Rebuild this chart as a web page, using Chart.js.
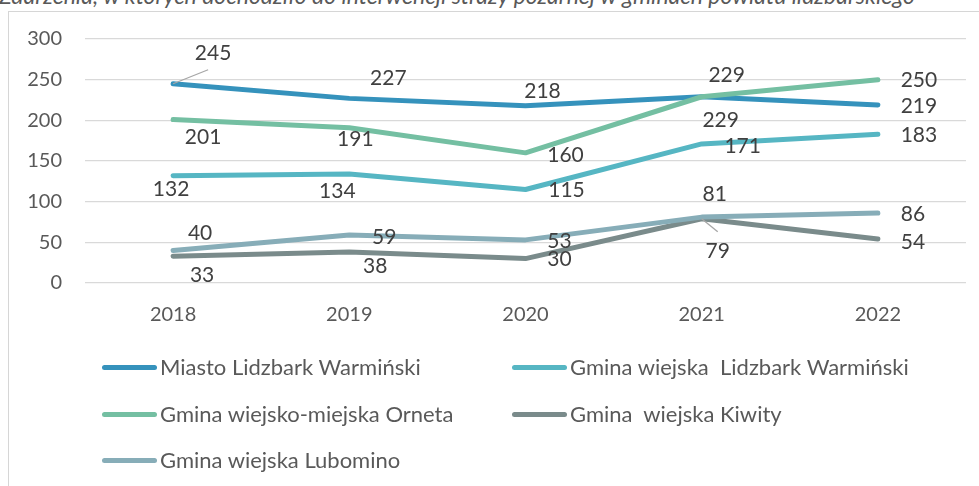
<!DOCTYPE html>
<html lang="pl">
<head>
<meta charset="utf-8">
<script src="https://cdn.jsdelivr.net/npm/chart.js@4/dist/chart.umd.min.js"></script>
<style>
  html, body { margin: 0; padding: 0; background: #fff; }
  body { width: 979px; height: 486px; position: relative; overflow: hidden; font-family: Lato, "Open Sans", sans-serif; }
  #frame { position: absolute; left: 8px; top: 11px; width: 1000px; height: 500px;
           border-left: 1px solid #d6d6d6; border-top: 1px solid #d6d6d6; }
  #title { position: absolute; left: -1px; top: -16px; white-space: nowrap; font-style: italic;
           font-size: 23px; line-height: 23px; color: #595959; background: #fff; }
  #wrap { position: absolute; left: 0; top: 0; width: 979px; height: 486px; }
  #legend { position: absolute; left: 0; top: 0; width: 979px; height: 486px; pointer-events: none; }
  .item { position: absolute; display: flex; align-items: center; height: 26px; white-space: pre; }
  .swatch { width: 55px; height: 5px; border-radius: 3px; margin-right: 3px; }
  .item span { font-size: 22px; color: #595959; line-height: 26px; }
</style>
</head>
<body>
<div id="frame"></div>
<div id="title">Zdarzenia, w których dochodziło do interwencji straży pożarnej w gminach powiatu lidzbarskiego</div>
<div id="wrap"><canvas id="c" width="979" height="486"></canvas></div>
<div id="legend"></div>
<script>
// Years on the category axis
const years = ['2018', '2019', '2020', '2021', '2022'];

// Series names (as shown in the legend)
const seriesNames = [
  'Miasto Lidzbark Warmiński',
  'Gmina wiejska  Lidzbark Warmiński',
  'Gmina wiejsko-miejska Orneta',
  'Gmina  wiejska Kiwity',
  'Gmina wiejska Lubomino'
];

// Number of fire brigade interventions per year
const miastoLidzbark = [245, 227, 218, 229, 219];
const gminaLidzbark  = [132, 134, 115, 171, 183];
const orneta         = [201, 191, 160, 229, 250];
const kiwity         = [33, 38, 30, 79, 54];
const lubomino       = [40, 59, 53, 81, 86];

// Value axis ticks
const yTicks = [0, 50, 100, 150, 200, 250, 300];

const seriesValues = [miastoLidzbark, gminaLidzbark, orneta, kiwity, lubomino];
const seriesColors = ['#3592BC', '#56B6C3', '#74BFA2', '#7A8B8B', '#87ADB8'];

// Value-label placement relative to each point (pixel offsets of the label centre)
const labelOffsets = [
  [[40, -30], [39, -20], [17, -14], [25, -22], [41, 1]],
  [[-2, 14], [-12, 17], [41, 1], [41, 2], [41, 1]],
  [[30, 18], [6, 12], [40, 2], [19, 23], [41, 1]],
  [[29, 19], [26, 14], [34, 1], [16, 32], [35, 3]],
  [[27, -17], [35, 2], [34, 1], [13, -23], [35, 1]]
];
// Leader lines for moved labels: [series, point, dx, dy]
const leaders = [[0, 0, 35, -14], [3, 3, 16, 13]];

const datasets = seriesNames.map((name, i) => ({
  label: name,
  data: seriesValues[i],
  borderColor: seriesColors[i],
  backgroundColor: seriesColors[i],
  borderWidth: 5,
  borderCapStyle: 'round',
  borderJoinStyle: 'round',
  pointRadius: 0,
  pointHoverRadius: 0,
  tension: 0,
  fill: false,
  order: seriesNames.length - i
}));

const valueLabels = {
  id: 'valueLabels',
  afterDatasetsDraw(chart) {
    const ctx = chart.ctx;
    ctx.save();
    ctx.strokeStyle = '#a6a6a6';
    ctx.lineWidth = 1.3;
    leaders.forEach(([s, p, dx, dy]) => {
      const pt = chart.getDatasetMeta(s).data[p];
      ctx.beginPath();
      ctx.moveTo(pt.x, pt.y);
      ctx.lineTo(pt.x + dx, pt.y + dy);
      ctx.stroke();
    });
    ctx.font = '21px Lato, "Open Sans", sans-serif';
    ctx.fillStyle = '#404040';
    ctx.textAlign = 'center';
    ctx.textBaseline = 'middle';
    chart.data.datasets.forEach((ds, s) => {
      const meta = chart.getDatasetMeta(s);
      meta.data.forEach((pt, p) => {
        const [dx, dy] = labelOffsets[s][p];
        ctx.fillText(String(ds.data[p]), pt.x + dx, pt.y + dy);
      });
    });
    ctx.restore();
  }
};

const chart = new Chart(document.getElementById('c'), {
  type: 'line',
  data: { labels: years, datasets },
  options: {
    responsive: false,
    animation: false,
    events: [],
    layout: { padding: { left: 0, right: 13, top: 39, bottom: 0 } },
    plugins: { legend: { display: false }, tooltip: { enabled: false } },
    scales: {
      x: {
        offset: true,
        grid: { display: false, drawTicks: false },
        border: { display: false },
        ticks: { color: '#595959', font: { family: 'Lato', size: 20 }, padding: 20 },
        afterFit(scale) { scale.height = 486 - 283; }
      },
      y: {
        min: 0,
        max: 300,
        afterBuildTicks(scale) { scale.ticks = yTicks.map(v => ({ value: v })); },
        grid: { color: '#d9d9d9', lineWidth: 1.3, drawTicks: false },
        border: { display: false },
        ticks: { color: '#595959', font: { family: 'Lato', size: 20 }, padding: 23 },
        afterFit(scale) { scale.width = 85; }
      }
    }
  },
  plugins: [valueLabels]
});

// Legend built from the chart's datasets, two per row
const legendPos = [[102, 367], [512, 367], [102, 414], [512, 414], [102, 460]];
const legendEl = document.getElementById('legend');
chart.data.datasets.forEach((ds, i) => {
  const item = document.createElement('div');
  item.className = 'item';
  item.style.left = legendPos[i][0] + 'px';
  item.style.top = (legendPos[i][1] - 13) + 'px';
  const sw = document.createElement('div');
  sw.className = 'swatch';
  sw.style.background = ds.borderColor;
  const tx = document.createElement('span');
  tx.textContent = ds.label;
  item.appendChild(sw);
  item.appendChild(tx);
  legendEl.appendChild(item);
});
</script>
</body>
</html>
